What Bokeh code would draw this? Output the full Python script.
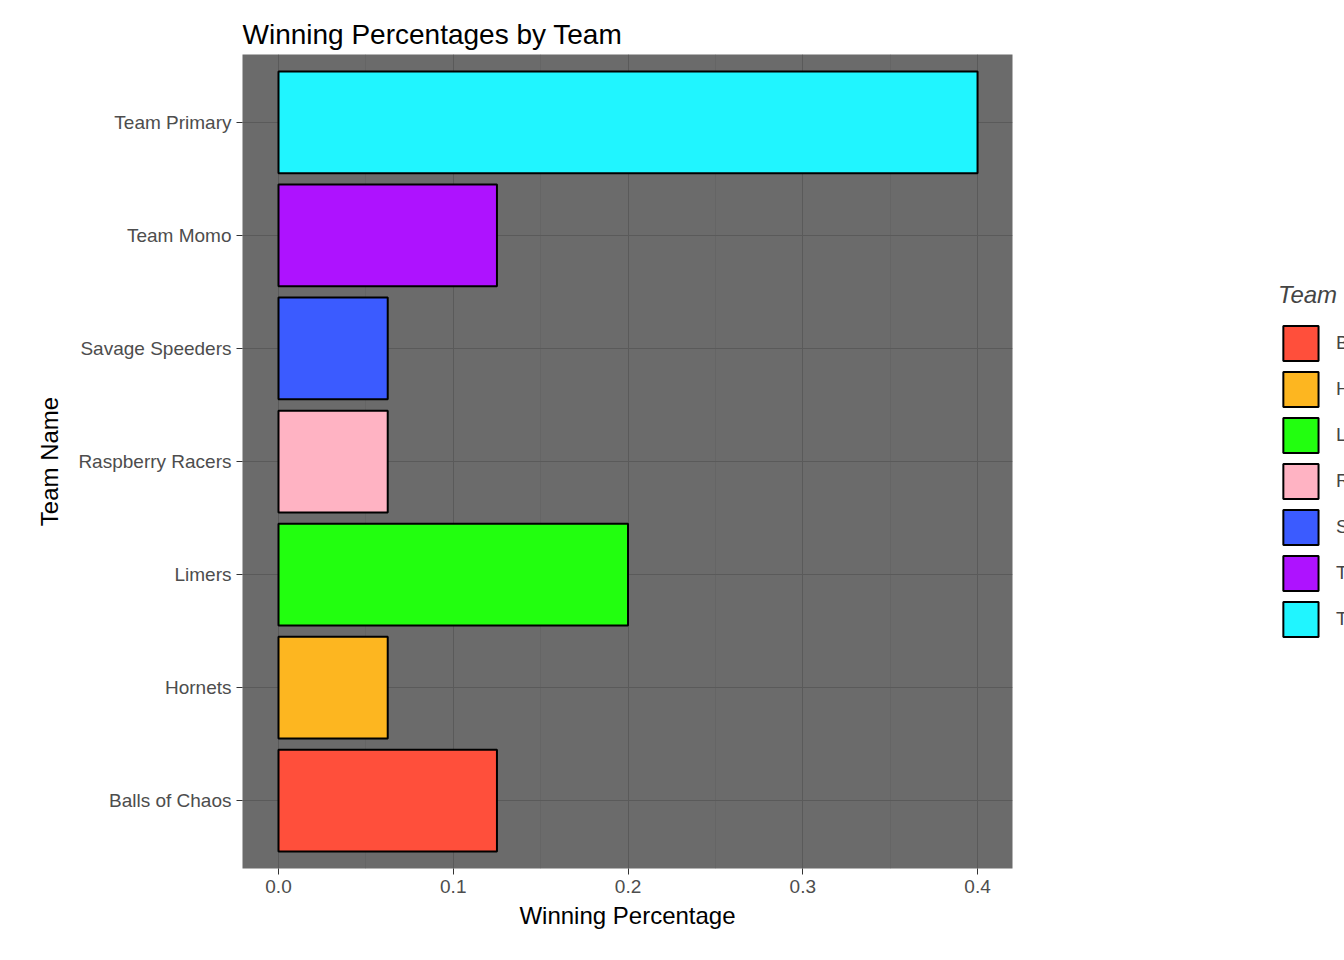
from bokeh.plotting import figure
from bokeh.models import ColumnDataSource, Legend, LegendItem, Range1d, FixedTicker
from bokeh.embed import file_html
from bokeh.resources import INLINE

teams = ["Balls of Chaos", "Hornets", "Limers", "Raspberry Racers",
         "Savage Speeders", "Team Momo", "Team Primary"]
win_pct = [0.125, 0.0625, 0.2, 0.0625, 0.0625, 0.125, 0.4]
colors = ["#FF4F3B", "#FDB620", "#22FF0F", "#FFB3C3", "#3B5BFF", "#AE12FF", "#20F5FF"]
x_ticks = [0.0, 0.1, 0.2, 0.3, 0.4]

FONT = "Liberation Sans"

pos = [i + 1 for i in range(len(teams))]
source = ColumnDataSource(data=dict(team=teams, y=pos, pct=win_pct, color=colors))

p = figure(frame_width=770, frame_height=814, output_backend="svg", toolbar_location=None,
           x_range=Range1d(-0.0206, 0.42), y_range=Range1d(0.4, 7.6),
           title="Winning Percentages by Team",
           min_border_left=242, min_border_right=0, min_border_top=54, min_border_bottom=76)

p.background_fill_color = "#6B6B6B"
p.border_fill_color = "white"
p.outline_line_color = None

r = p.hbar(y="y", left=0, right="pct", height=0.9, fill_color="color",
           line_color="black", line_width=2, source=source)

p.title.text_font = FONT
p.title.text_font_size = "28px"
p.title.text_font_style = "normal"
p.title.text_color = "black"
p.title.offset = 0

p.xaxis.ticker = FixedTicker(ticks=x_ticks, minor_ticks=[0.05, 0.15, 0.25, 0.35])
p.xaxis.major_label_overrides = {t: f"{t:.1f}" for t in x_ticks}
p.yaxis.ticker = FixedTicker(ticks=pos)
p.yaxis.major_label_overrides = {i + 1: t for i, t in enumerate(teams)}

for ax in (p.xaxis, p.yaxis):
    ax.axis_line_color = None
    ax.major_tick_line_color = "#333333"
    ax.major_tick_out = 6
    ax.major_tick_in = 0
    ax.minor_tick_line_color = None
    ax.major_label_text_font = FONT
    ax.major_label_text_font_size = "19px"
    ax.major_label_text_color = "#4D4D4D"
    ax.axis_label_text_font = FONT
    ax.axis_label_text_font_size = "24px"
    ax.axis_label_text_font_style = "normal"
    ax.axis_label_text_color = "black"
p.xaxis.axis_label = "Winning Percentage"
p.yaxis.axis_label = "Team Name"
p.xaxis.axis_label_standoff = 6
p.yaxis.axis_label_standoff = 12

p.xgrid.grid_line_color = "#5A5A5A"
p.xgrid.minor_grid_line_color = "#626262"
p.xgrid.minor_grid_line_width = 0.6
p.ygrid.grid_line_color = "#5A5A5A"

items = [LegendItem(label=t, renderers=[r], index=i) for i, t in enumerate(teams)]
legend = Legend(items=items, location="center", title="Team Name",
                title_text_font=FONT, title_text_font_size="24px", title_standoff=12,
                label_text_font=FONT, label_text_font_size="19px",
                glyph_width=44, glyph_height=44, spacing=2, label_standoff=14,
                margin=38, padding=4,
                background_fill_alpha=0, border_line_color=None)
p.add_layout(legend, "right")

open("out.html", "w").write(file_html(p, INLINE))
